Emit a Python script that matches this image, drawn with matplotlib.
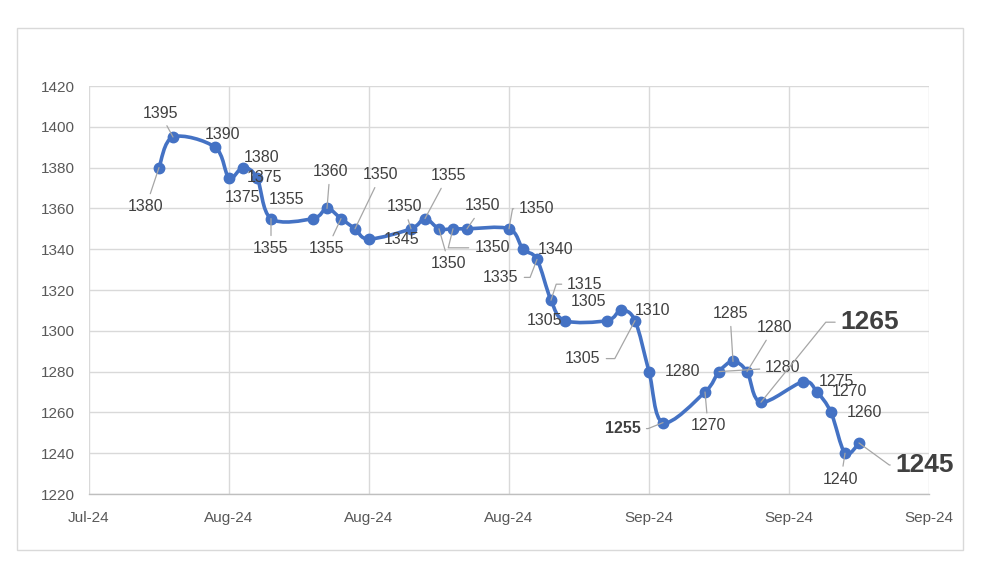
import matplotlib
matplotlib.use("Agg")
import matplotlib.pyplot as plt
import matplotlib.dates as mdates
from matplotlib.path import Path
from matplotlib.patches import PathPatch, Rectangle
import numpy as np
import datetime as dt

# ---------------- data ----------------
dates = ["2024-08-01", "2024-08-02", "2024-08-05", "2024-08-06", "2024-08-07", "2024-08-08",
         "2024-08-09", "2024-08-12", "2024-08-13", "2024-08-14", "2024-08-15", "2024-08-16",
         "2024-08-19", "2024-08-20", "2024-08-21", "2024-08-22", "2024-08-23", "2024-08-26",
         "2024-08-27", "2024-08-28", "2024-08-29", "2024-08-30", "2024-09-02", "2024-09-03",
         "2024-09-04", "2024-09-05", "2024-09-06", "2024-09-09", "2024-09-10", "2024-09-11",
         "2024-09-12", "2024-09-13", "2024-09-16", "2024-09-17", "2024-09-18", "2024-09-19",
         "2024-09-20"]
values = [1380, 1395, 1390, 1375, 1380, 1375, 1355, 1355, 1360, 1355, 1350, 1345,
          1350, 1355, 1350, 1350, 1350, 1350, 1340, 1335, 1315, 1305, 1305, 1310,
          1305, 1280, 1255, 1270, 1280, 1285, 1280, 1265, 1275, 1270, 1260, 1240, 1245]
y_ticks = [1220, 1240, 1260, 1280, 1300, 1320, 1340, 1360, 1380, 1400, 1420]
x_start = "2024-07-27"
x_end = "2024-09-25"

# ---------------- label layout (pixel offsets, leader flag, style) ----------------
label_offsets = [(-13, -39), (-13, 24), (7, 13), (13, -20), (19, 10), (8, 0), (0, -30),
                 (-26, 19), (3, 37), (-14, -30), (26, 54), (33, 0), (-7, 22), (23, 43),
                 (10, -35), (39, -19), (16, 23), (28, 20), (33, 0), (-36, -18), (34, 16),
                 (-20, 0), (-18, 19), (32, 0), (-52, -38), (33, 0), (-40, -6), (3, -34),
                 (64, 4), (-3, 48), (27, 44), (109, 80), (33, 0), (32, 0), (33, 0),
                 (-4, -26), (66, -22)]
leaders = [1, 1, 0, 0, 0, 0, 1, 0, 1, 1, 1, 0, 1, 1, 1, 1, 1, 1, 0, 1, 1,
           0, 0, 0, 1, 0, 1, 1, 1, 1, 1, 1, 0, 0, 0, 1, 1]
elbows = {15: 76, 17: 80, 19: 69, 20: 72, 24: 62, 26: 22, 31: 51, 36: -36}
styles = {26: ("bold", 11.5), 31: ("bold", 19), 36: ("bold", 19)}

FONT = ["Liberation Sans", "DejaVu Sans"]
LINE_COLOR = "#4472C4"
TXT = "#404040"
GRID = "#D9D9D9"

W, H = 981, 566
fig = plt.figure(figsize=(W / 100, H / 100), dpi=100)
fig.patch.set_facecolor("white")

# outer chart border
fig.patches.append(Rectangle((17 / W, 1 - 550 / H), (963 - 17) / W, (550 - 28) / H,
                             transform=fig.transFigure, fill=False,
                             edgecolor="#D9D9D9", linewidth=1.0))

L, R, T, B = 89, 929, 86, 494
ax = fig.add_axes([L / W, 1 - B / H, (R - L) / W, (B - T) / H])

x = mdates.date2num([dt.datetime.strptime(d, "%Y-%m-%d") for d in dates])
y = np.array(values, dtype=float)
x0 = mdates.date2num(dt.datetime.strptime(x_start, "%Y-%m-%d"))
x1 = mdates.date2num(dt.datetime.strptime(x_end, "%Y-%m-%d"))

ax.set_xlim(x0, x1)
ax.set_ylim(y_ticks[0], y_ticks[-1])
ax.set_yticks(y_ticks)
ax.set_xticks(np.arange(x0, x1 + 0.5, 10))
ax.xaxis.set_major_formatter(mdates.DateFormatter("%b-%y"))

for s in ["top", "right", "left"]:
    ax.spines[s].set_visible(False)
ax.spines["bottom"].set_color("#BFBFBF")
ax.spines["bottom"].set_linewidth(1.0)
ax.grid(True, color=GRID, linewidth=1.0)
ax.set_axisbelow(True)
ax.tick_params(length=0, labelsize=11, labelcolor="#595959")
ax.tick_params(axis="y", pad=10)
ax.tick_params(axis="x", pad=12)
for lab in ax.get_xticklabels() + ax.get_yticklabels():
    lab.set_family(FONT)

# smooth line (Excel-like Catmull-Rom bezier)
pts = np.column_stack([x, y])
verts = [tuple(pts[0])]
codes = [Path.MOVETO]
n = len(pts)
for i in range(n - 1):
    p0 = pts[i - 1] if i > 0 else pts[i]
    p1 = pts[i]
    p2 = pts[i + 1]
    p3 = pts[i + 2] if i + 2 < n else pts[i + 1]
    c1 = p1 + (p2 - p0) / 6.0
    c2 = p2 - (p3 - p1) / 6.0
    verts += [tuple(c1), tuple(c2), tuple(p2)]
    codes += [Path.CURVE4] * 3
ax.add_patch(PathPatch(Path(verts, codes), facecolor="none", edgecolor=LINE_COLOR,
                       linewidth=2.6, capstyle="round", joinstyle="round", zorder=3))
ax.plot(x, y, linestyle="none", marker="o", markersize=7.5, color=LINE_COLOR, zorder=4)

# data labels
for i, (xi, yi) in enumerate(zip(x, y)):
    dx, dy = label_offsets[i]
    weight, size = styles.get(i, ("normal", 11.5))
    kw = dict(xy=(xi, yi), xytext=(dx, dy), textcoords="offset pixels",
              ha="center", va="center", fontsize=size, fontweight=weight,
              color=TXT, family=FONT, zorder=6, annotation_clip=False)
    if leaders[i]:
        ap = dict(arrowstyle="-", color="#A6A6A6", lw=0.9, shrinkA=2, shrinkB=0)
        if i in elbows:
            ap["connectionstyle"] = f"angle,angleA=0,angleB={elbows[i]},rad=0"
        kw["arrowprops"] = ap
    ax.annotate(f"{values[i]}", **kw)

fig.savefig("out.png", dpi=100, facecolor="white")
